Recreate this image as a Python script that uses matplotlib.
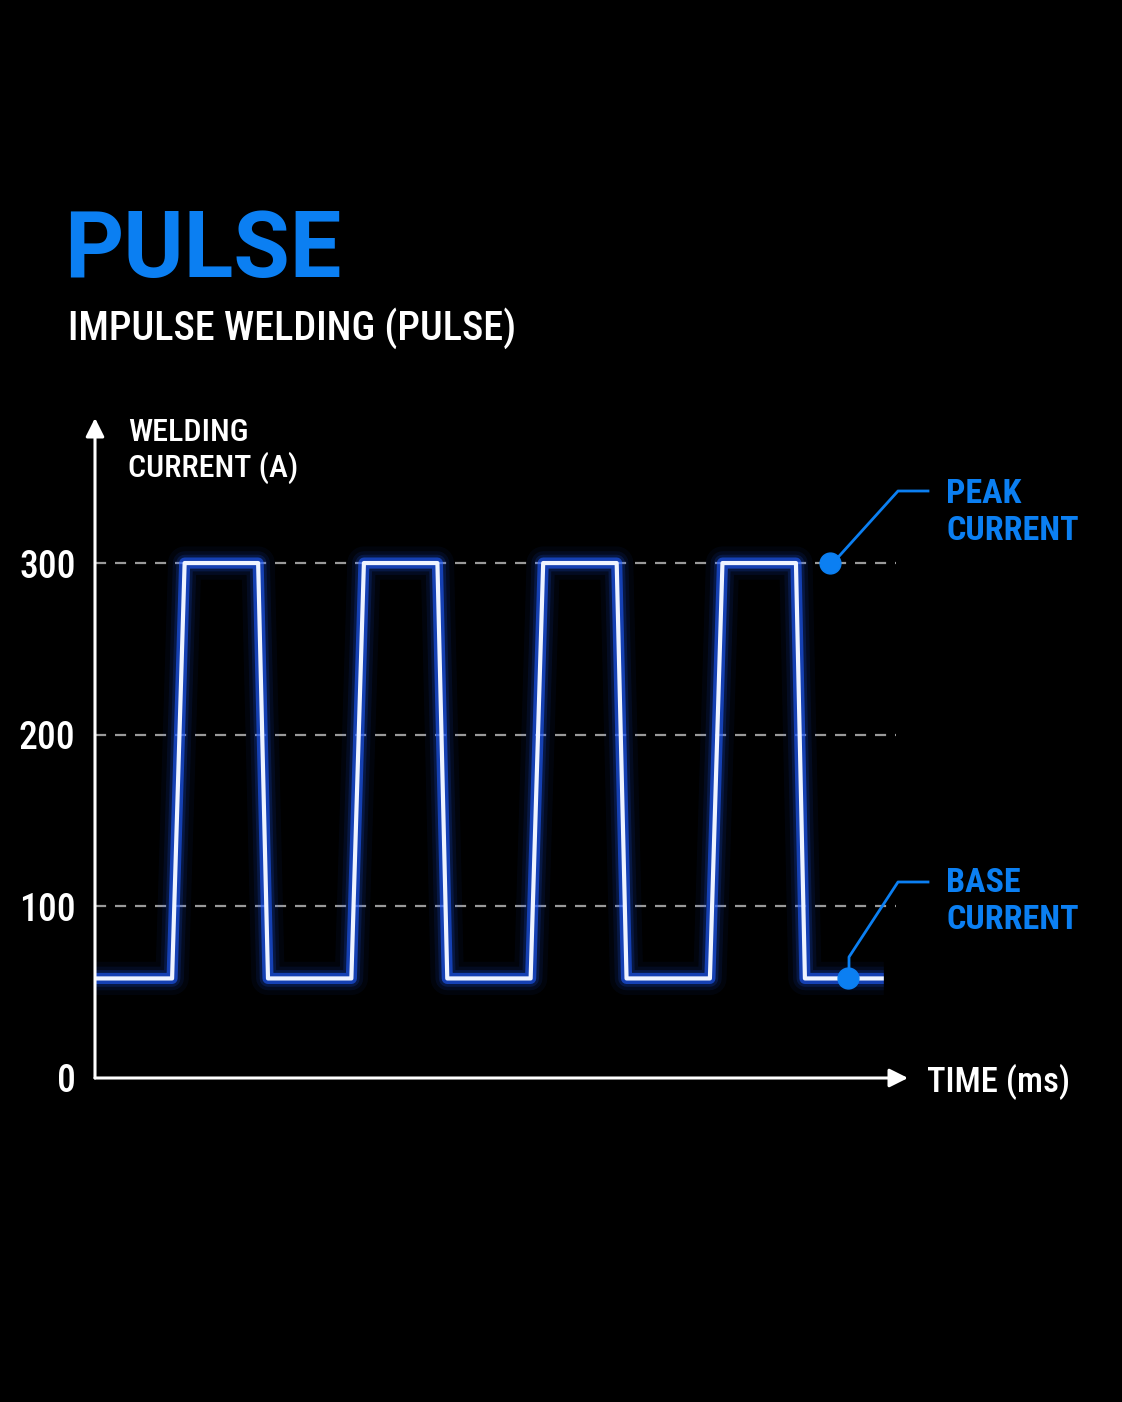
import matplotlib
matplotlib.use("Agg")
import matplotlib.pyplot as plt
from matplotlib import font_manager

# waveform (time in ms, current in A)
times = [0, 4.3, 5.0, 9.1, 9.65, 14.3, 15.0, 19.1, 19.65, 24.3, 25.0, 29.1,
         29.65, 34.3, 35.0, 39.1, 39.6, 44.0]
currents = [58, 58, 300, 300, 58, 58, 300, 300, 58, 58, 300, 300,
            58, 58, 300, 300, 58, 58]
yticks = [0, 100, 200, 300]
gridlevels = [100, 200, 300]
peakpoint = (41.0, 300)
basepoint = (42.0, 58)

BLUE = "#0b7ff2"
W, H = 1122, 1402

names = {f.name for f in font_manager.fontManager.ttflist}
cond = next((n for n in ["Roboto Condensed", "Liberation Sans Narrow",
                         "Open Sans Condensed", "Noto Sans"] if n in names),
            "DejaVu Sans")
condfont = dict(family=[cond, "DejaVu Sans"], fontstretch="condensed", fontweight="medium")


def fx(px):
    return px / W


def fy(py):
    return 1 - py / H


fig = plt.figure(figsize=(W / 100, H / 100), dpi=100, facecolor="black")
ax = fig.add_axes([fx(95), fy(1078), 813 / W, 660 / H], facecolor="black")
ax.set_xlim(0, 45.35)
ax.set_ylim(0, 384.5)
for s in ax.spines.values():
    s.set_visible(False)
ax.set_xticks([])
ax.set_yticks(yticks)
ax.set_yticklabels([str(v) for v in yticks], color="white", fontsize=27, **condfont)
ax.tick_params(axis="y", length=0, pad=14)

# dashed reference levels
ax.hlines(gridlevels, 0, 44.7, colors="#9a9a9a", linestyles=(0, (5, 4)), lw=1.6, zorder=1)

# glowing waveform
for lw, a in [(24, 0.05), (17, 0.09), (12, 0.16), (8, 0.6)]:
    ax.plot(times, currents, color="#1f5cff", lw=lw, alpha=a,
            solid_joinstyle="round", solid_capstyle="butt", zorder=2)
ax.plot(times, currents, color="#eef3ff", lw=3, solid_joinstyle="round",
        solid_capstyle="butt", zorder=3)

# axes with arrows
ax.annotate("", xy=(1, 0), xytext=(0, 0), xycoords="axes fraction",
            arrowprops=dict(arrowstyle="-|>", color="white", lw=2.2,
                            mutation_scale=28, shrinkA=0, shrinkB=0), annotation_clip=False)
ax.annotate("", xy=(0, 1), xytext=(0, 0), xycoords="axes fraction",
            arrowprops=dict(arrowstyle="-|>", color="white", lw=2.2,
                            mutation_scale=28, shrinkA=0, shrinkB=0), annotation_clip=False)

# markers and leader lines
ax.plot(*peakpoint, "o", color=BLUE, ms=15, zorder=5)
ax.plot(*basepoint, "o", color=BLUE, ms=15, zorder=5)
fig.add_artist(plt.Line2D([fx(832), fx(898), fx(928)], [fy(564), fy(491), fy(491)],
                          color=BLUE, lw=2))
fig.add_artist(plt.Line2D([fx(849), fx(849), fx(898), fx(928)],
                          [fy(977), fy(957), fy(882), fy(882)], color=BLUE, lw=2))

# texts
fig.text(fx(64), fy(277), "PULSE", color=BLUE, fontsize=66, fontweight="bold",
         family=["Roboto", "DejaVu Sans"], va="baseline", ha="left")
fig.text(fx(68), fy(340), "IMPULSE WELDING (PULSE)", color="white", fontsize=29,
         va="baseline", ha="left", **condfont)
fig.text(fx(128), fy(477), "WELDING\nCURRENT (A)", color="white", fontsize=23,
         va="baseline", ha="left", linespacing=1.2, **condfont)
fig.text(fx(927), fy(1078), "TIME (ms)", color="white", fontsize=25,
         va="center_baseline", ha="left", **condfont)
fig.text(fx(946), fy(540), "PEAK\nCURRENT", color=BLUE, fontsize=24.5, fontweight="bold",
         family=[cond, "DejaVu Sans"], fontstretch="condensed",
         va="baseline", ha="left", linespacing=1.2)
fig.text(fx(946), fy(929), "BASE\nCURRENT", color=BLUE, fontsize=24.5, fontweight="bold",
         family=[cond, "DejaVu Sans"], fontstretch="condensed",
         va="baseline", ha="left", linespacing=1.2)

fig.savefig("out.png", dpi=100, facecolor="black")
